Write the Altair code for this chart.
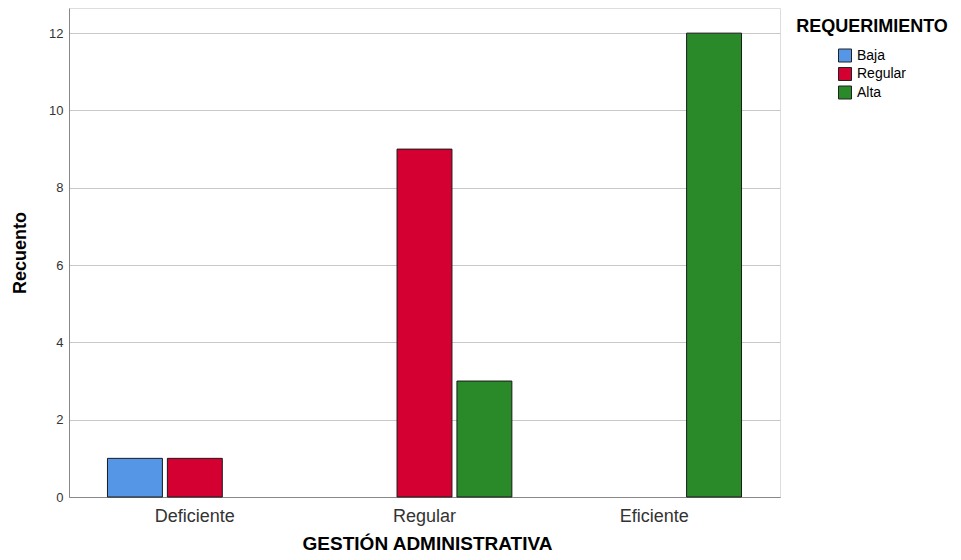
import altair as alt
import pandas as pd

categories = ["Deficiente", "Regular", "Eficiente"]
series = ["Baja", "Regular", "Alta"]
bar_category = ["Deficiente", "Deficiente", "Regular", "Regular", "Eficiente"]
bar_series = ["Baja", "Regular", "Regular", "Alta", "Alta"]
bar_count = [1, 1, 9, 3, 12]
colors = ["#5596E6", "#D50032", "#2A8A2A"]
y_ticks = [0, 2, 4, 6, 8, 10, 12]

df = pd.DataFrame({"cat": bar_category, "req": bar_series, "n": bar_count})

FONT = "Liberation Sans"

bars = alt.Chart(df).mark_bar(stroke="#1a1a1a", strokeWidth=1).encode(
    x=alt.X("cat:N", sort=categories,
            scale=alt.Scale(domain=categories, paddingInner=0, paddingOuter=0.048),
            axis=alt.Axis(title="GESTIÓN ADMINISTRATIVA", labelAngle=0, ticks=False,
                          labelFontSize=18, labelColor="#333333", labelFont=FONT,
                          labelBaseline="alphabetic", labelPadding=24,
                          domainColor="#888888", grid=False,
                          titleFont=FONT, titleFontSize=19, titleFontWeight="bold",
                          titleColor="#000000", titleX=358, titleY=52,
                          titleBaseline="alphabetic", titleAlign="center")),
    xOffset=alt.XOffset("req:N", sort=series,
                        scale=alt.Scale(domain=series, paddingInner=0.0833, paddingOuter=0.4583)),
    y=alt.Y("n:Q", scale=alt.Scale(domain=[0, 12.65], nice=False, zero=True),
            axis=alt.Axis(title="Recuento", values=y_ticks, ticks=False,
                          labelFontSize=13, labelColor="#333333", labelFont=FONT,
                          labelPadding=6, domainColor="#888888",
                          gridColor="#c8c8c8", gridWidth=1,
                          titleFont=FONT, titleFontSize=18, titleFontWeight="bold",
                          titleColor="#000000", titleX=-44, titleY=244.5,
                          titleAngle=270, titleAlign="center", titleBaseline="alphabetic")),
    color=alt.Color("req:N", sort=series,
                    scale=alt.Scale(domain=series, range=colors),
                    legend=alt.Legend(title=None, orient="none", legendX=769, legendY=40.5,
                                      symbolType="square", symbolSize=169,
                                      symbolStrokeColor="#222222", symbolStrokeWidth=1,
                                      labelFontSize=14, labelFont=FONT, labelColor="#000000",
                                      labelOffset=5, rowPadding=0.5)),
)

legend_title = alt.Chart(alt.Data(values=[{"t": "REQUERIMIENTO"}])).mark_text(
    font=FONT, fontSize=18, fontWeight="bold", color="#000000",
    align="center", baseline="alphabetic"
).encode(x=alt.value(803), y=alt.value(24), text="t:N")

chart = alt.layer(bars, legend_title).properties(
    width=711, height=489,
    autosize=alt.AutoSizeParams(type="none"),
    padding={"left": 61, "top": 0, "right": 173, "bottom": 55},
).configure_view(stroke=None).configure(background="white")

chart.save("out.html", embed_options={"renderer": "svg", "actions": False})
